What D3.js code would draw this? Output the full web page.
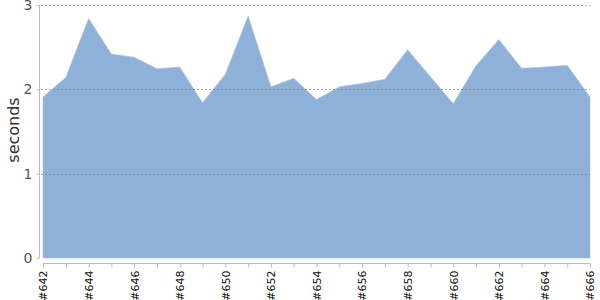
<!DOCTYPE html>
<html>
<head>
<meta charset="utf-8">
<script src="https://cdn.jsdelivr.net/npm/d3@7"></script>
<style>
  body { margin: 0; background: #fff; }
  svg { font-family: "DejaVu Sans", Verdana, sans-serif; }
</style>
</head>
<body>
<svg id="chart" width="600" height="300"></svg>
<script>
// build numbers on the x axis
var builds = [642, 643, 644, 645, 646, 647, 648, 649, 650, 651, 652, 653, 654,
              655, 656, 657, 658, 659, 660, 661, 662, 663, 664, 665, 666];
// duration of each build, seconds
var seconds = [1.91, 2.14, 2.84, 2.42, 2.38, 2.245, 2.265, 1.84, 2.18, 2.87, 2.03, 2.13, 1.88,
               2.03, 2.07, 2.12, 2.47, 2.15, 1.83, 2.28, 2.59, 2.25, 2.265, 2.285, 1.91];
var y_ticks = [0, 1, 2, 3];

var svg = d3.select("#chart");
var plot_left = 43, plot_right = 590, plot_top = 5, plot_bottom = 258;

var x = d3.scaleLinear()
    .domain([builds[0], builds[builds.length - 1]])
    .range([plot_left, plot_right]);

var y = d3.scaleLinear()
    .domain([0, 3])
    .range([plot_bottom, plot_top]);

// filled area
var area = d3.area()
    .x(function(d, i) { return x(builds[i]); })
    .y0(y(0))
    .y1(function(d) { return y(d); });

svg.append("path")
    .datum(seconds)
    .attr("d", area)
    .attr("fill", "#8eb1d9")
    .attr("stroke", "#a9c4e4")
    .attr("stroke-width", 0.6);

// dashed grid lines, drawn over the area
svg.append("g")
    .selectAll("line")
    .data(y_ticks.filter(function(d) { return d > 0; }))
    .enter().append("line")
    .attr("x1", 41)
    .attr("x2", plot_right)
    .attr("y1", function(d) { return Math.round(y(d)) + 0.5; })
    .attr("y2", function(d) { return Math.round(y(d)) + 0.5; })
    .attr("stroke", "#777")
    .attr("stroke-opacity", 0.6)
    .attr("stroke-dasharray", "2,2");

// y axis, pulled a little to the left of the plot
var y_axis = svg.append("g")
    .attr("transform", "translate(39.5,0)")
    .call(d3.axisLeft(y).tickValues(y_ticks).tickFormat(d3.format("d")).tickSize(3).tickPadding(4));
y_axis.attr("font-family", null);
y_axis.select(".domain").attr("stroke", "#bbb").attr("d", "M0," + y(3) + "V" + y(0));
y_axis.selectAll(".tick line").attr("stroke", "#bbb");
y_axis.selectAll("text")
    .attr("fill", "#555")
    .style("font-size", "14px");

// x axis, pushed a little below the plot
var x_axis = svg.append("g")
    .attr("transform", "translate(0,263.5)")
    .call(d3.axisBottom(x)
        .tickValues(builds)
        .tickSize(4)
        .tickFormat(function(d) { return d % 2 == 0 ? "#" + d : ""; }));
x_axis.attr("font-family", null);
x_axis.select(".domain").attr("stroke", "#bbb").attr("d", "M" + plot_left + ",0H" + plot_right);
x_axis.selectAll(".tick line").attr("stroke", "#bbb");
x_axis.selectAll("text")
    .attr("transform", "rotate(-90)")
    .attr("text-anchor", "end")
    .attr("x", -7)
    .attr("y", 0)
    .attr("dy", "0.35em")
    .attr("fill", "#111")
    .style("font-size", "11px");

// axis title
svg.append("text")
    .attr("transform", "translate(19,130) rotate(-90)")
    .attr("text-anchor", "middle")
    .attr("fill", "#333")
    .style("font-size", "16px")
    .text("seconds");
</script>
</body>
</html>
